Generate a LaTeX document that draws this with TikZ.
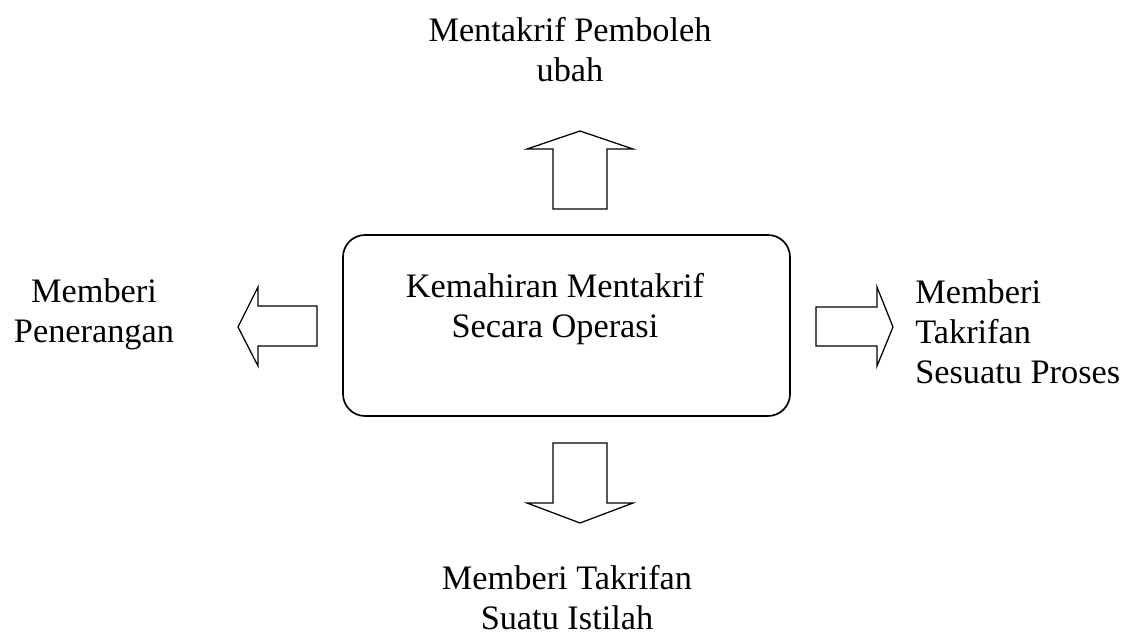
\documentclass[tikz,border=0pt]{standalone}
\usepackage{fontspec}
\setmainfont{Liberation Serif}
\usepackage{tikz}
\usetikzlibrary{positioning}

\begin{document}
\begin{tikzpicture}[x=0.025cm,y=-0.025cm,
	label text/.style={inner sep=0pt,font=\fontsize{24.4}{28.5}\selectfont,align=#1},
	label text/.default=center,
	block arrow/.style={draw=black,line width=0.9pt,fill=white,line join=miter},
	]
	\useasboundingbox (0,0) rectangle (1128,635);
	%Main box
	\draw[line width=1.2pt,rounded corners=0.55cm] (343,235) rectangle (790,416);
	\node[label text] (main) at (555,309.5) {Kemahiran Mentakrif\\Secara Operasi};
	%Block arrows
	\draw[block arrow] (553,209) -- (553,149) -- (527,149) -- (580,131) -- (633,149) -- (607,149) -- (607,209) -- cycle;
	\draw[block arrow] (317,306) -- (258,306) -- (258,287) -- (238,327) -- (258,366) -- (258,346) -- (317,346) -- cycle;
	\draw[block arrow] (816,307) -- (877,307) -- (877,287) -- (893,327) -- (877,366) -- (877,346) -- (816,346) -- cycle;
	\draw[block arrow] (553,443) -- (553,503) -- (527,503) -- (580,523) -- (633,503) -- (607,503) -- (607,443) -- cycle;
	%Labels
	\node[label text] (top) at (570,50) {Mentakrif Pemboleh\\ubah};
	\node[label text] (left) at (94,314.5) {Memberi\\Penerangan};
	\node[label text=left,anchor=west] (right) at (915,332) {Memberi\\Takrifan\\Sesuatu Proses};
	\node[label text] (bottom) at (567,597.5) {Memberi Takrifan\\Suatu Istilah};
\end{tikzpicture}
\end{document}
